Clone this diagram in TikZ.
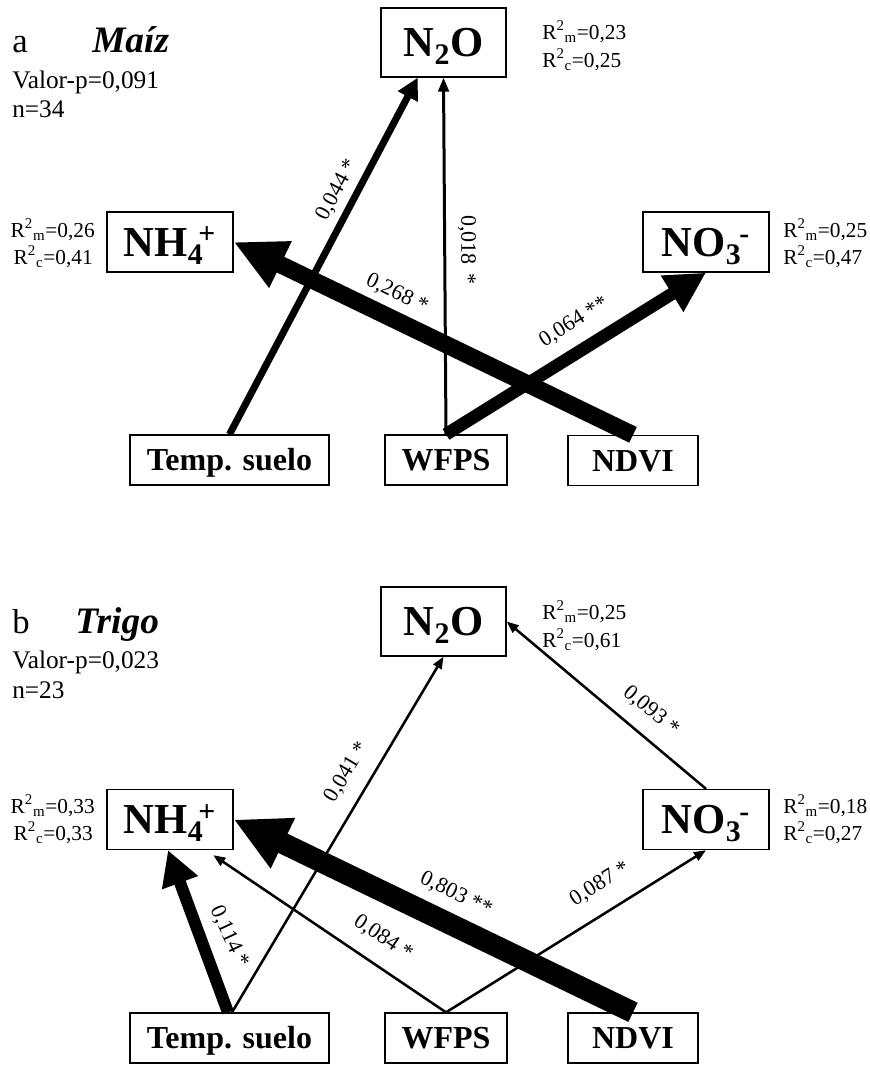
\documentclass[tikz,border=0pt]{standalone}
\usepackage{fontspec}
\setmainfont{Liberation Serif}
\usetikzlibrary{arrows.meta,calc}
\begin{document}
\begin{tikzpicture}[x=0.75pt,y=-0.75pt,
  chem/.style={draw, line width=1pt, inner sep=0pt, minimum width=94.5pt, minimum height=45pt, text height=21pt, text depth=0pt, font=\bfseries\fontsize{32}{32}\selectfont},
  nbox/.style={chem, minimum width=93.75pt, minimum height=51.75pt},
  var/.style={draw, line width=1pt, inner sep=0pt, minimum height=37.5pt, text height=16pt, text depth=0pt, font=\bfseries\fontsize{24}{24}\selectfont},
  lab/.style={inner sep=0pt, font=\fontsize{16.5}{16.5}\selectfont},
  rtxt/.style={inner sep=0pt, font=\fontsize{16}{16}\selectfont},
  info/.style={inner sep=0pt, anchor=base west, font=\fontsize{19}{19}\selectfont},
  ttl/.style={inner sep=0pt, anchor=base west, font=\fontsize{26}{26}\selectfont},
  ttlit/.style={inner sep=0pt, anchor=base west, font=\bfseries\itshape\fontsize{28}{28}\selectfont},
  aA/.style={line width=5.25pt, -{Triangle[length=16pt,width=16pt]}},
  aB/.style={line width=2.25pt, -{Triangle[length=10.5pt,width=8pt]}},
  aC/.style={line width=13pt, -{Triangle[length=39pt,width=36pt]}},
  aD/.style={line width=9.5pt, -{Triangle[length=30pt,width=30pt]}},
  thinar/.style={line width=1.9pt, -{Triangle[length=9pt,width=7pt]}},
  bB/.style={line width=9pt, -{Triangle[length=26pt,width=27pt]}},
  bD/.style={line width=16pt, -{Triangle[length=41pt,width=39pt]}}
]
\useasboundingbox (0,0) rectangle (869,1065);

% ---------- panel a ----------
\node[ttl] (ta) at (12,52) {a};
\node[ttlit] (tma) at (92,52) {Maíz};
\node[info] (pa) at (12,88) {Valor-p=0,091};
\node[info] (na) at (12,117) {n=34};

\node[nbox] (n2oA) at (443.5,42.5) {N\textsubscript{2}O};
\node[chem] (nh4A) at (170,242) {NH\textsubscript{4}\kern-0.12em\textsuperscript{+}};
\node[chem] (no3A) at (706,242) {NO\textsubscript{3}\kern-0.05em\textsuperscript{-}};
\node[var, minimum width=149.25pt] (tempA) at (229.5,460) {Temp. suelo};
\node[var, minimum width=91.5pt] (wfpsA) at (446,460) {WFPS};
\node[var, minimum width=97.5pt] (ndviA) at (633,460.5) {NDVI};

\node[rtxt, anchor=base west] (ra1) at (542,39) {R\textsuperscript{2}\textsubscript{m}=0,23};
\node[rtxt, anchor=base west] (ra2) at (542,67) {R\textsuperscript{2}\textsubscript{c}=0,25};
\node[rtxt, anchor=base east] (ra3) at (95,237) {R\textsuperscript{2}\textsubscript{m}=0,26};
\node[rtxt, anchor=base east] (ra4) at (93,264) {R\textsuperscript{2}\textsubscript{c}=0,41};
\node[rtxt, anchor=base west] (ra5) at (783,237) {R\textsuperscript{2}\textsubscript{m}=0,25};
\node[rtxt, anchor=base west] (ra6) at (783,264) {R\textsuperscript{2}\textsubscript{c}=0,47};

\draw[aA] (tempA.north) -- ($(n2oA.south west)!0.296!(n2oA.south east)$);
\draw[aB] (wfpsA.north) -- (n2oA.south);
\draw[aC] (ndviA.north) -- (nh4A.east);
\draw[aD] (wfpsA.north) -- (no3A.south);

\node[lab, rotate=62] (la1) at (337,190) {0,044 *};
\node[lab, rotate=-90] (la2) at (467,250) {0,018 \,*};
\node[lab, rotate=-25.8] (la3) at (397,294) {0,268 *};
\node[lab, rotate=32] (la4) at (574,322) {0,064 **};

% ---------- panel b ----------
\node[ttl] (tb) at (12,633) {b};
\node[ttlit] (ttb) at (75,633) {Trigo};
\node[info] (pb) at (12,668) {Valor-p=0,023};
\node[info] (nb) at (12,698) {n=23};

\node[nbox] (n2oB) at (443.5,621.5) {N\textsubscript{2}O};
\node[chem] (nh4B) at (170,819.5) {NH\textsubscript{4}\kern-0.12em\textsuperscript{+}};
\node[chem] (no3B) at (706,819.5) {NO\textsubscript{3}\kern-0.05em\textsuperscript{-}};
\node[var, minimum width=149.25pt] (tempB) at (229.5,1038) {Temp. suelo};
\node[var, minimum width=91.5pt] (wfpsB) at (446,1038) {WFPS};
\node[var, minimum width=97.5pt] (ndviB) at (633,1038) {NDVI};

\node[rtxt, anchor=base west] (rb1) at (542,619) {R\textsuperscript{2}\textsubscript{m}=0,25};
\node[rtxt, anchor=base west] (rb2) at (542,647) {R\textsuperscript{2}\textsubscript{c}=0,61};
\node[rtxt, anchor=base east] (rb3) at (95,813) {R\textsuperscript{2}\textsubscript{m}=0,33};
\node[rtxt, anchor=base east] (rb4) at (93,840) {R\textsuperscript{2}\textsubscript{c}=0,33};
\node[rtxt, anchor=base west] (rb5) at (783,813) {R\textsuperscript{2}\textsubscript{m}=0,18};
\node[rtxt, anchor=base west] (rb6) at (783,840) {R\textsuperscript{2}\textsubscript{c}=0,27};

\draw[thinar] ($(tempB.north)+(2.5,0)$) -- (n2oB.south);
\draw[bB] ($(tempB.north)+(-1.5,0)$) -- ($(nh4B.south)+(-2,0)$);
\draw[thinar] (wfpsB.north) -- ($(nh4B.south west)!0.84!(nh4B.south east)+(0,5)$);
\draw[bD] (ndviB.north) -- (nh4B.east);
\draw[thinar] (wfpsB.north) -- (no3B.south);
\draw[thinar] (no3B.north) -- (n2oB.east);

\node[lab, rotate=59] (lb1) at (347,772) {0,041 *};
\node[lab, rotate=-40] (lb2) at (651,711) {0,093 *};
\node[lab, rotate=-65] (lb3) at (229,937) {0,114 *};
\node[lab, rotate=-34] (lb4) at (383,938) {0,084 *};
\node[lab, rotate=-26] (lb5) at (456,894) {0,803 **};
\node[lab, rotate=32] (lb6) at (600,884) {0,087 *};
\end{tikzpicture}
\end{document}
